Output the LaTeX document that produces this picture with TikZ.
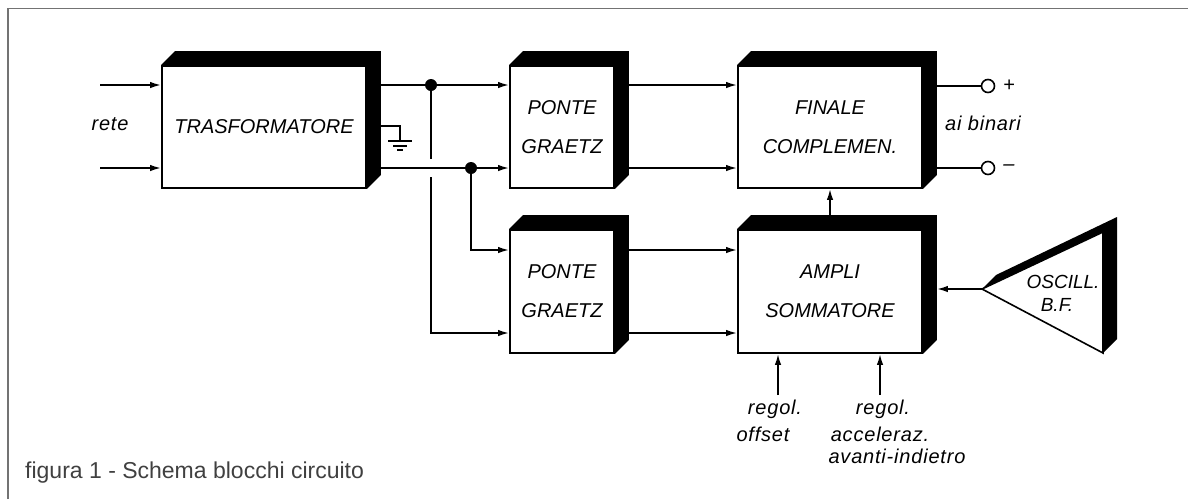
\documentclass[tikz,border=0pt]{standalone}
\usepackage{fontspec}
\setmainfont{Liberation Sans}
\usetikzlibrary{arrows.meta}
\begin{document}
\begin{tikzpicture}[x=1pt,y=-1pt,
  wire/.style={line width=1.7pt},
  arr/.style={wire,-{Latex[length=11pt,width=6.5pt]}},
  blk/.style={draw,line width=1.8pt,fill=white,rectangle,inner sep=0pt,
    font=\fontsize{20}{39}\selectfont\itshape,align=center},
  lbl/.style={font=\fontsize{20}{24}\selectfont\itshape\addfontfeature{LetterSpace=4},inner sep=0pt},
  dotn/.style={circle,fill,inner sep=0pt,minimum size=12pt},
  term/.style={circle,draw,line width=1.6pt,fill=white,inner sep=0pt,minimum size=13pt},
  shadow/.style={fill=black}
]
\useasboundingbox (0,0) rectangle (1188,499);
% frame
\draw[black!55,line width=1.5pt] (8,499) -- (8,8.5) -- (1188,8.5);

% blocks
\node[blk,minimum width=204pt,minimum height=122pt] (T) at (264,127) {TRASFORMATORE};
\node[blk,minimum width=104pt,minimum height=122pt] (P1) at (562,127) {PONTE\\GRAETZ};
\node[blk,minimum width=104pt,minimum height=123pt] (P2) at (562,291.5) {PONTE\\GRAETZ};
\node[blk,minimum width=184pt,minimum height=122pt] (F) at (830,127) {FINALE\\COMPLEMEN.};
\node[blk,minimum width=184pt,minimum height=123pt] (A) at (830,291.5) {AMPLI\\SOMMATORE};

% reference rows
\coordinate (r1) at (0,85);
\coordinate (r2) at (0,168);
\coordinate (r3) at (0,250);
\coordinate (r4) at (0,333);
\coordinate (in1) at (100,85);
\coordinate (in2) at (100,168);
\coordinate (d1c) at (431,85);
\coordinate (d2c) at (471,168);
\coordinate (g) at (400,126);

% inputs
\draw[arr] (in1) -- (in1 -| T.west);
\draw[arr] (in2) -- (in2 -| T.west);
\node[lbl] (rete) at (110,124) {rete};

% transformer outputs
\draw[arr] (T.east |- r1) -- (r1 -| P1.west);
\draw[arr] (T.east |- r2) -- (r2 -| P1.west);
\node[dotn] (d1) at (d1c) {};
\node[dotn] (d2) at (d2c) {};
\draw[wire] (d1) -- (431,159);
\draw[arr] (431,177) -- (431,333) -- (r4 -| P2.west);
\draw[arr] (d2) -- (471,250) -- (r3 -| P2.west);

% ground
\draw[wire] (T.east |- g) -- (g) -- (400,141);
\draw[wire] (388,141) -- (412,141);
\draw[wire] (393,146) -- (407,146);
\draw[wire] (397,150) -- (403,150);

% bridges to finale / ampli
\draw[arr] (P1.east |- r1) -- (r1 -| F.west);
\draw[arr] (P1.east |- r2) -- (r2 -| F.west);
\draw[arr] (P2.east |- r3) -- (r3 -| A.west);
\draw[arr] (P2.east |- r4) -- (r4 -| A.west);

% output terminals
\node[term] (tp) at (988,86) {};
\node[term] (tm) at (988,168) {};
\draw[wire] (F.east |- tp) -- (tp.west);
\draw[wire] (F.east |- tm) -- (tm.west);
\node[lbl] (plus) at (1009,86) {+};
\node[lbl] (minus) at (1009,168) {\textendash};
\node[lbl] (binari) at (983,123) {ai binari};

% ampli -> finale
\draw[arr] ([yshift=14pt]A.north) -- (F.south);

% oscillator
\coordinate (osc) at (982,289);
\coordinate (ot) at (1103,232);
\coordinate (ob) at (1103,353);
\fill[shadow] (osc) -- ++(14,-14) -- ([shift={(14,-15)}]ot) -- ([shift={(14,-14)}]ob) -- (ob) -- (ot) -- cycle;
\draw[line width=1.6pt,fill=white,line join=miter] (osc) -- (ot) -- (ob) -- cycle;
\node[lbl,font=\fontsize{19}{24}\selectfont\itshape] (o1) at (1063,282) {OSCILL.};
\node[lbl,font=\fontsize{19}{24}\selectfont\itshape] (o2) at (1057,305) {B.F.};
\draw[arr] (osc) -- ([xshift=14pt]A.east |- osc);

% control inputs
\coordinate (c1) at (778,395);
\coordinate (c2) at (880,395);
\draw[arr] (c1) -- (c1 |- A.south);
\draw[arr] (c2) -- (c2 |- A.south);
\node[lbl] (ra) at (775,409) {regol.};
\node[lbl] (rb) at (763,434) {offset};
\node[lbl] (rc) at (883,409) {regol.};
\node[lbl] (rd) at (880,434) {acceleraz.};
\node[lbl] (re) at (897,456) {avanti-indietro};

% shadows of blocks
\foreach \n in {T,P1,P2,F,A}{
  \fill[shadow] (\n.north west) -- ++(14,-14) -- ([shift={(14,-14)}]\n.north east)
     -- ([shift={(14,-14)}]\n.south east) -- (\n.south east) -- (\n.north east) -- cycle;
}

% caption
\node[anchor=base west,inner sep=0pt,font=\fontsize{23}{26}\selectfont,text=black!75] (cap) at (25,478) {figura 1 - Schema blocchi circuito};
\end{tikzpicture}
\end{document}
